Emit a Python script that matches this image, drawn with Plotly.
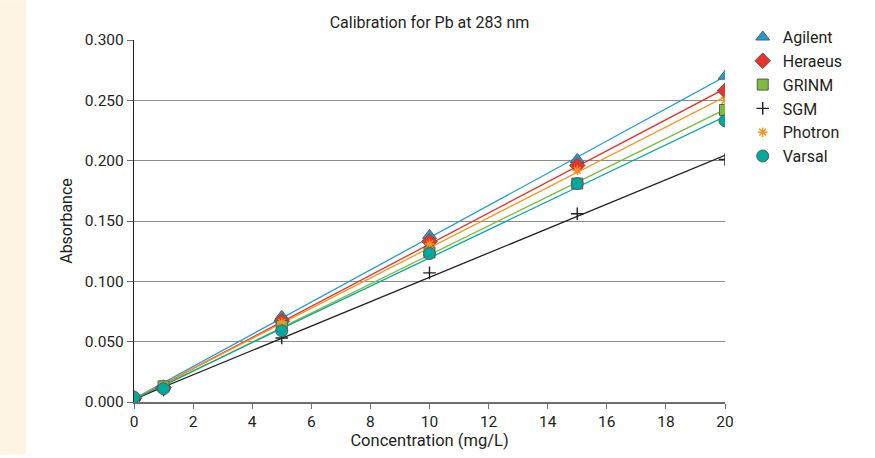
import numpy as np
import plotly.graph_objects as go

conc = [0, 1, 5, 10, 15, 20]
agilent = [0.004, 0.013, 0.071, 0.138, 0.201, 0.270]
heraeus = [0.003, 0.012, 0.067, 0.133, 0.196, 0.258]
grinm = [0.000, 0.013, 0.063, 0.124, 0.181, 0.242]
sgm = [0.002, 0.010, 0.053, 0.107, 0.156, 0.201]
photron = [0.003, 0.012, 0.066, 0.131, 0.192, 0.250]
varsal = [0.004, 0.011, 0.059, 0.123, 0.181, 0.233]

series = [
    ("Agilent", agilent, "#1E9BDB", "triangle-up", 12),
    ("Heraeus", heraeus, "#E8332A", "diamond", 12),
    ("GRINM", grinm, "#7DBE3F", "square", 11),
    ("SGM", sgm, "#231F20", "cross-thin", 9),
    ("Photron", photron, "#F7941D", "asterisk", 8),
    ("Varsal", varsal, "#00A99D", "circle", 12),
]

fig = go.Figure()
for name, ys, col, sym, sz in series:
    k, b = np.polyfit(conc, ys, 1)
    xs = np.array([min(conc), max(conc)])
    fig.add_trace(go.Scatter(x=xs, y=k * xs + b, mode="lines",
                             line=dict(color=col, width=1.3),
                             showlegend=False, hoverinfo="skip"))
for name, ys, col, sym, sz in series:
    if sym in ("cross-thin", "asterisk"):
        marker = dict(symbol=sym, size=sz, color=col,
                      line=dict(color=col, width=1.4))
    else:
        marker = dict(symbol=sym, size=sz, color=col,
                      line=dict(color="#5a5a5a", width=1))
    fig.add_trace(go.Scatter(x=conc, y=ys, mode="markers", name=name,
                             marker=marker))

W, H = 875, 458
ml, mr, mt, mb = 134, 150, 40, 53
pw, ph = W - ml - mr, H - mt - mb

fig.add_shape(type="rect", xref="paper", yref="paper",
              x0=-ml / pw, x1=(26 - ml) / pw, y0=-mb / ph, y1=1 + mt / ph,
              fillcolor="#FDF4E4", line=dict(width=0), layer="below")

font = "Roboto, Arial"
fig.update_layout(
    width=W, height=H,
    margin=dict(l=ml, r=mr, t=mt, b=mb),
    paper_bgcolor="white", plot_bgcolor="white",
    font=dict(family=font, size=14, color="#231F20"),
    title=dict(text="Calibration for Pb at 283 nm", x=(ml + pw / 2) / W,
               xanchor="center", y=1 - 22 / H, yanchor="middle",
               font=dict(size=16)),
    legend=dict(x=1.03, y=1.055, xanchor="left", yanchor="top",
                font=dict(size=16), itemsizing="trace",
                tracegroupgap=0, bgcolor="rgba(0,0,0,0)"),
    xaxis=dict(range=[0, 20], tickvals=list(range(0, 21, 2)),
               showgrid=False, zeroline=False, showline=True,
               linecolor="#6d6d6d", linewidth=1.5, ticks="outside",
               ticklen=5, tickcolor="#6d6d6d",
               title=dict(text="Concentration (mg/L)", standoff=3,
                          font=dict(size=16.5)),
               tickfont=dict(size=15.5)),
    yaxis=dict(range=[0, 0.3], tickvals=[0, 0.05, 0.1, 0.15, 0.2, 0.25, 0.3],
               tickformat=".3f", showgrid=True, gridcolor="#8c8c8c",
               gridwidth=1, zeroline=False, showline=True,
               linecolor="#231F20", linewidth=1.2, ticks="outside",
               ticklen=6, tickcolor="#6d6d6d",
               title=dict(text="Absorbance", standoff=8, font=dict(size=16)),
               tickfont=dict(size=15.5)),
)
fig.write_html("out.html",
               config={"displayModeBar": False},
               post_script="document.body.style.margin='0';"
                           "document.body.style.overflow='hidden';")
